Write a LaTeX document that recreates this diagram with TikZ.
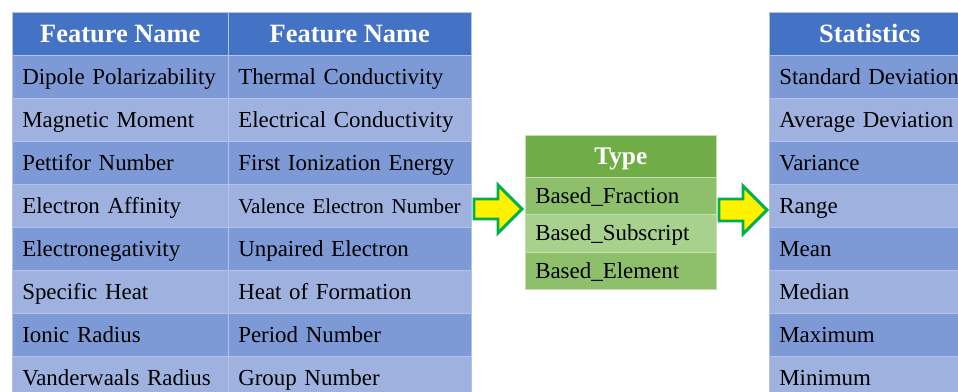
\documentclass[tikz,border=0pt]{standalone}
\usepackage{fontspec}
\setmainfont{Liberation Serif}
\definecolor{hdrblue}{HTML}{4472C4}
\definecolor{rowA}{HTML}{7D99D6}
\definecolor{rowB}{HTML}{9FB2DF}
\definecolor{cellline}{HTML}{B3C2E8}
\definecolor{hdrgreen}{HTML}{70AD47}
\definecolor{grA}{HTML}{8EC06C}
\definecolor{grB}{HTML}{A9D18E}
\definecolor{grline}{HTML}{C3E0AE}
\definecolor{arrgreen}{HTML}{00B050}
\begin{document}
\begin{tikzpicture}[x=0.75pt,y=-0.75pt,
  bodyfont/.style={font=\fontsize{17.2}{20}\selectfont, text height=15pt, text depth=3.6pt},
  cell/.style={draw=cellline, line width=0.4pt, anchor=north west, inner xsep=7.5pt, inner ysep=0pt,
    align=left, minimum height=32.25pt, bodyfont},
  hcell/.style={draw=cellline, line width=0.4pt, anchor=north west, fill=hdrblue, text=white,
    inner sep=0pt, align=center, minimum height=32.25pt, text height=16.5pt, text depth=3.6pt,
    font=\fontsize{19.8}{22}\selectfont\bfseries},
  gcell/.style={draw=grline, line width=0.4pt, anchor=north west, inner xsep=7.5pt, inner ysep=0pt,
    align=left, minimum height=28pt, text width=128.25pt, bodyfont},
  bigarrow/.style={draw=arrgreen, fill=yellow, line width=2.2pt, line join=miter}
]
\useasboundingbox (0,0) rectangle (958,392);
\clip (0,0) rectangle (958,392);
\fill[white] (0,0) rectangle (958,392);

% left table header
\node[hcell, minimum width=162pt] (lh1) at (12,12) {Feature Name};
\node[hcell, minimum width=182.25pt] (lh2) at (228,12) {Feature Name};

% left table rows
\foreach \i/\a/\b in {1/Dipole Polarizability/Thermal Conductivity,
                      2/Magnetic Moment/Electrical Conductivity,
                      3/Pettifor Number/First Ionization Energy,
                      4/Electron Affinity/{\fontsize{15.8}{18}\selectfont Valence Electron Number},
                      5/Electronegativity/Unpaired Electron,
                      6/Specific Heat/Heat of Formation,
                      7/Ionic Radius/Period Number,
                      8/Vanderwaals Radius/Group Number}{
  \ifodd\i \def\rc{rowA}\else\def\rc{rowB}\fi
  \node[cell, fill=\rc, text width=147pt] (la\i) at (12,{55+43*(\i-1)}) {\mbox{\a}};
  \node[cell, fill=\rc, text width=167.25pt] (lb\i) at (228,{55+43*(\i-1)}) {\mbox{\b}};
}

% type box
\node[hcell, fill=hdrgreen, draw=grline, minimum width=143.25pt, minimum height=31.5pt,
      text height=15.5pt, font=\fontsize{19}{22}\selectfont\bfseries] (th) at (525,135) {Type};
\node[gcell, fill=grA] (t1) at (525,177) {\mbox{Based\_Fraction}};
\node[gcell, fill=grB] (t2) at (525,214.33) {\mbox{Based\_Subscript}};
\node[gcell, fill=grA] (t3) at (525,251.67) {\mbox{Based\_Element}};

% right table
\node[hcell, minimum width=150.75pt] (rh) at (769,12) {Statistics};
\foreach \i/\a in {1/Standard Deviation, 2/Average Deviation, 3/Variance, 4/Range,
                   5/Mean, 6/Median, 7/Maximum, 8/Minimum}{
  \ifodd\i \def\rc{rowA}\else\def\rc{rowB}\fi
  \node[cell, fill=\rc, text width=135.75pt] (r\i) at (769,{55+43*(\i-1)}) {\mbox{\a}};
}

% arrows
\draw[bigarrow] (474,199) -- (498,199) -- (498,185) -- (522,209) -- (498,233) -- (498,219) -- (474,219) -- cycle;
\draw[bigarrow] (719,199) -- (743,199) -- (743,186) -- (767,210) -- (743,234) -- (743,221) -- (719,221) -- cycle;
\end{tikzpicture}
\end{document}
